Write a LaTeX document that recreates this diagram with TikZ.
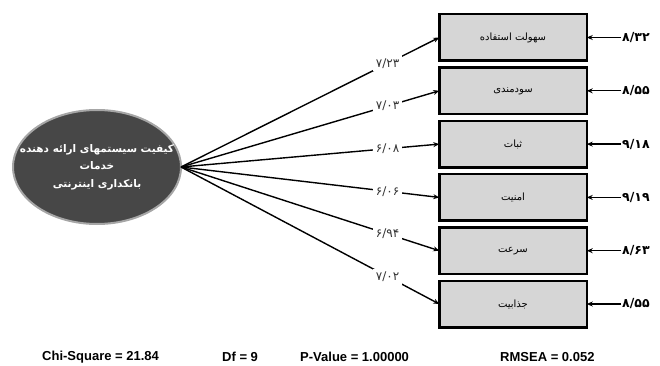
\documentclass[tikz,border=0pt]{standalone}
\usepackage{fontspec}
\setmainfont{Liberation Sans}
\newfontfamily\farsi[Script=Arabic]{DejaVu Sans}
\TeXXeTstate=1
\usetikzlibrary{positioning}
\usetikzlibrary{shapes.geometric}
\usetikzlibrary{arrows.meta}

\begin{document}
\begin{tikzpicture}[x=1pt, y=-1pt,
factorbox/.style={
    rectangle,
    draw=black,
    fill=black!16,
    line width=2.5pt,
    minimum width=147.5pt,
    minimum height=46.5pt,
    inner sep=0pt, % No inner spacing
    outer sep=0pt, % No outer spacing
    font=\farsi\fontsize{10}{12}\selectfont,
},
latent/.style={
    ellipse,
    draw=black!35,
    line width=2pt,
    fill=black!72,
    minimum width=168pt,
    minimum height=114pt,
    inner sep=0pt,
    outer sep=0pt,
},
latenttext/.style={
    text=white,
    align=center,
    inner sep=0pt,
    font=\farsi\bfseries\fontsize{10.5}{17.5}\selectfont,
},
loading/.style={-{Stealth[length=6pt,width=5pt]}, line width=1.4pt},
weight/.style={fill=white, inner sep=3pt, text=black!80, font=\farsi\fontsize{12}{14}\selectfont},
errlabel/.style={anchor=west, inner sep=1pt, font=\farsi\bfseries\fontsize{12.5}{14}\selectfont},
fitstat/.style={anchor=west, inner sep=0pt, font=\bfseries\fontsize{13}{15}\selectfont},
node distance=6.8pt,
]
\useasboundingbox (0,0) rectangle (660,366);

\node[latent] (quality) at (97,167) {};
\node[latenttext] (qtext) at (quality.center) {\beginR کیفیت سیستمهای ارائه دهنده\endR\\ \beginR خدمات\endR\\ \beginR بانکداری اینترنتی\endR};

\node[factorbox] (b1) at (513,37.5) {\beginR سهولت استفاده\endR};
\node[factorbox] (b2) [below=of b1] {\beginR سودمندی\endR};
\node[factorbox] (b3) [below=of b2] {\beginR ثبات\endR};
\node[factorbox] (b4) [below=of b3] {\beginR امنیت\endR};
\node[factorbox] (b5) [below=of b4] {\beginR سرعت\endR};
\node[factorbox] (b6) [below=of b5] {\beginR جذابیت\endR};

% loadings
\draw[loading] (quality.east) -- (b1.west) node[weight, pos=0.8] (w1) {۷/۲۳};
\draw[loading] (quality.east) -- (b2.west) node[weight, pos=0.8] (w2) {۷/۰۳};
\draw[loading] (quality.east) -- (b3.west) node[weight, pos=0.8] (w3) {۶/۰۸};
\draw[loading] (quality.east) -- (b4.west) node[weight, pos=0.8] (w4) {۶/۰۶};
\draw[loading] (quality.east) -- (b5.west) node[weight, pos=0.8] (w5) {۶/۹۴};
\draw[loading] (quality.east) -- (b6.west) node[weight, pos=0.8] (w6) {۷/۰۲};

% error terms
\node[errlabel] (e1) at (621,0 |- b1.center) {۸/۳۲};
\node[errlabel] (e2) at (621,0 |- b2.center) {۸/۵۵};
\node[errlabel] (e3) at (621,0 |- b3.center) {۹/۱۸};
\node[errlabel] (e4) at (621,0 |- b4.center) {۹/۱۹};
\node[errlabel] (e5) at (621,0 |- b5.center) {۸/۶۳};
\node[errlabel] (e6) at (621,0 |- b6.center) {۸/۵۵};
\draw[loading] (e1) -- (b1);
\draw[loading] (e2) -- (b2);
\draw[loading] (e3) -- (b3);
\draw[loading] (e4) -- (b4);
\draw[loading] (e5) -- (b5);
\draw[loading] (e6) -- (b6);

% fit statistics
\node[fitstat] (chi) at (42,357) {Chi-Square = 21.84};
\node[fitstat] (df) at (222,357) {Df = 9};
\node[fitstat] (pval) at (300,357) {P-Value = 1.00000};
\node[fitstat] (rmsea) at (500,357) {RMSEA = 0.052};

\end{tikzpicture}
\end{document}
